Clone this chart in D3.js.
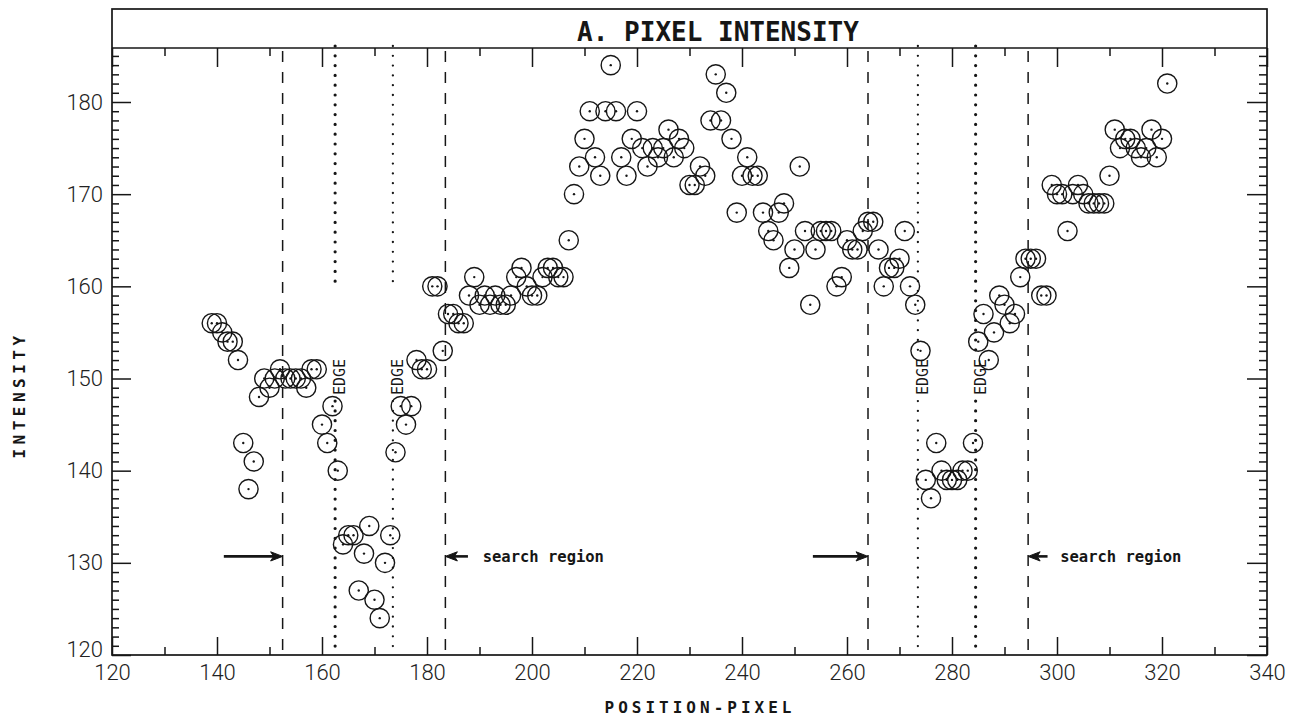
<!DOCTYPE html>
<html>
<head>
<meta charset="utf-8">
<script src="https://cdn.jsdelivr.net/npm/d3@7"></script>
<style>
  html, body { margin: 0; padding: 0; background: #fff; }
  svg { display: block; }
</style>
</head>
<body>
<svg id="chart" width="1302" height="720"></svg>
<script>
// Pixel positions along the scan line and the measured intensity at each one
const pixelPositions = [
  139,140,141,142,143,144,145,146,147,148,
  149,150,151,152,153,154,155,156,157,158,
  159,160,161,162,163,164,165,166,167,168,
  169,170,171,172,173,174,175,176,177,178,
  179,180,181,182,183,184,185,186,187,188,
  189,190,191,192,193,194,195,196,197,198,
  199,200,201,202,203,204,205,206,207,208,
  209,210,211,212,213,214,215,216,217,218,
  219,220,221,222,223,224,225,226,227,228,
  229,230,231,232,233,234,235,236,237,238,
  239,240,241,242,243,244,245,246,247,248,
  249,250,251,252,253,254,255,256,257,258,
  259,260,261,262,263,264,265,266,267,268,
  269,270,271,272,273,274,275,276,277,278,
  279,280,281,282,283,284,285,286,287,288,
  289,290,291,292,293,294,295,296,297,298,
  299,300,301,302,303,304,305,306,307,308,
  309,310,311,312,313,314,315,316,317,318,
  319,320,321
];
const intensities = [
  156,156,155,154,154,152,143,138,141,148,
  150,149,150,151,150,150,150,150,149,151,
  151,145,143,147,140,132,133,133,127,131,
  134,126,124,130,133,142,147,145,147,152,
  151,151,160,160,153,157,157,156,156,159,
  161,158,159,158,159,158,158,159,161,162,
  160,159,159,161,162,162,161,161,165,170,
  173,176,179,174,172,179,184,179,174,172,
  176,179,175,173,175,174,175,177,174,176,
  175,171,171,173,172,178,183,178,181,176,
  168,172,174,172,172,168,166,165,168,169,
  162,164,173,166,158,164,166,166,166,160,
  161,165,164,164,166,167,167,164,160,162,
  162,163,166,160,158,153,139,137,143,140,
  139,139,139,140,140,143,154,157,152,155,
  159,158,156,157,161,163,163,163,159,159,
  171,170,170,166,170,171,170,169,169,169,
  169,172,177,175,176,176,175,174,175,177,
  174,176,182
];

// Axis ticks
const xMajorTicks = [120,140,160,180,200,220,240,260,280,300,320,340];
const xMinorTicks = [130,150,170,190,210,230,250,270,290,310,330];
const yMajorTicks = [120,130,140,150,160,170,180];
const yMinorTicks = [121,122,123,124,125,126,127,128,129,
                     131,132,133,134,135,136,137,138,139,
                     141,142,143,144,145,146,147,148,149,
                     151,152,153,154,155,156,157,158,159,
                     161,162,163,164,165,166,167,168,169,
                     171,172,173,174,175,176,177,178,179,
                     181,182,183,184,185];

// Search region bounds (dashed) and detected edges (dotted)
const searchBounds = [152.5, 183.5, 264, 294.5];
const edgePositions = [162.5, 173.5, 273.5, 284.5];
const edgeUpperEnd = [159.5, 159.5, 153, 153];   // intensity where the upper dotted run stops
const edgeLabelBase = 148.2;                     // intensity where each EDGE label starts

// Search-region arrows: [tail, head] in pixel position, at one intensity level
const arrowLevel = 130.7;
const arrowsIn = [[141.3, 152.5], [253.5, 264]];
const arrowsOut = [[187.8, 183.5], [298.2, 294.5]];
const searchLabelPos = [190.6, 300.6];

const titleText = "A. PIXEL INTENSITY";
const xTitle = "POSITION-PIXEL";
const yTitle = "INTENSITY";

// ---- layout ----
const frame = { left: 112, right: 1267, top: 48, bottom: 655, titleTop: 9 };
const ink = "#161616";
const monoFont = "'DejaVu Sans Mono', monospace";
const tickFont = "Roboto, 'DejaVu Sans', sans-serif";

const svg = d3.select("#chart");

const x = d3.scaleLinear().domain([120, 340]).range([frame.left, frame.right]);
const y = d3.scaleLinear().domain([120, 180]).range([frame.bottom, 102]);

// Outer frame including the title band
svg.append("rect")
  .attr("x", frame.left).attr("y", frame.titleTop)
  .attr("width", frame.right - frame.left)
  .attr("height", frame.bottom - frame.titleTop)
  .attr("fill", "none").attr("stroke", ink).attr("stroke-width", 1.7);
svg.append("line")
  .attr("x1", frame.left).attr("x2", frame.right)
  .attr("y1", frame.top).attr("y2", frame.top)
  .attr("stroke", ink).attr("stroke-width", 1.7);

svg.append("text")
  .attr("x", 718).attr("y", 41)
  .attr("text-anchor", "middle")
  .attr("font-family", monoFont).attr("font-weight", "bold")
  .attr("font-size", 26).attr("fill", ink)
  .text(titleText);

// ---- axes (ticks point inward on all four sides) ----
function styleAxis(g) {
  g.select(".domain").remove();
  g.selectAll(".tick line").attr("stroke", ink).attr("stroke-width", 1.5);
  g.selectAll(".tick text")
    .attr("font-family", tickFont).attr("font-weight", 300)
    .attr("font-size", 22).attr("fill", "#222");
}

svg.append("g").attr("transform", `translate(0,${frame.bottom})`)
  .call(d3.axisBottom(x).tickValues(xMajorTicks).tickSize(-18).tickPadding(9)
        .tickFormat(d3.format("d")))
  .call(styleAxis);
svg.append("g").attr("transform", `translate(0,${frame.bottom})`)
  .call(d3.axisBottom(x).tickValues(xMinorTicks).tickSize(-8).tickFormat(""))
  .call(styleAxis);
svg.append("g").attr("transform", `translate(0,${frame.top})`)
  .call(d3.axisTop(x).tickValues(xMajorTicks).tickSize(-19).tickFormat(""))
  .call(styleAxis);
svg.append("g").attr("transform", `translate(0,${frame.top})`)
  .call(d3.axisTop(x).tickValues(xMinorTicks).tickSize(-8).tickFormat(""))
  .call(styleAxis);

const yLeft = svg.append("g").attr("transform", `translate(${frame.left},0)`)
  .call(d3.axisLeft(y).tickValues(yMajorTicks).tickSize(-19).tickPadding(9)
        .tickFormat(d3.format("d")))
  .call(styleAxis);
// lift the lowest label so it clears the x-axis numbers
yLeft.selectAll(".tick text").filter(d => d === 120).attr("dy", "0.05em");
svg.append("g").attr("transform", `translate(${frame.left},0)`)
  .call(d3.axisLeft(y).tickValues(yMinorTicks).tickSize(-7).tickFormat(""))
  .call(styleAxis);
svg.append("g").attr("transform", `translate(${frame.right},0)`)
  .call(d3.axisRight(y).tickValues(yMajorTicks).tickSize(-20).tickFormat(""))
  .call(styleAxis);
svg.append("g").attr("transform", `translate(${frame.right},0)`)
  .call(d3.axisRight(y).tickValues(yMinorTicks).tickSize(-8).tickFormat(""))
  .call(styleAxis);

// Axis titles
svg.append("text")
  .attr("x", 700).attr("y", 713)
  .attr("text-anchor", "middle")
  .attr("font-family", monoFont).attr("font-weight", "bold")
  .attr("font-size", 16).attr("letter-spacing", 4).attr("fill", ink)
  .text(xTitle);
svg.append("text")
  .attr("transform", "translate(25,395) rotate(-90)")
  .attr("text-anchor", "middle")
  .attr("font-family", monoFont).attr("font-weight", "bold")
  .attr("font-size", 16).attr("letter-spacing", 4.5).attr("fill", ink)
  .text(yTitle);

// ---- search region bounds ----
const guides = svg.append("g");
guides.selectAll("line.bound").data(searchBounds).join("line")
  .attr("class", "bound")
  .attr("x1", d => x(d)).attr("x2", d => x(d))
  .attr("y1", frame.top + 3).attr("y2", frame.bottom)
  .attr("stroke", ink).attr("stroke-width", 1.5)
  .attr("stroke-dasharray", "11 10");

// ---- edge markers: dotted runs above and below an EDGE label ----
edgePositions.forEach((p, i) => {
  const heavy = (i === 0 || i === 3);
  const dotStyle = sel => sel
    .attr("stroke", ink)
    .attr("stroke-width", heavy ? 3.2 : 2.3)
    .attr("stroke-linecap", "round")
    .attr("stroke-dasharray", "0 9.8");
  guides.append("line")
    .attr("x1", x(p)).attr("x2", x(p))
    .attr("y1", frame.top - 2).attr("y2", y(edgeUpperEnd[i]))
    .call(dotStyle);
  guides.append("line")
    .attr("x1", x(p)).attr("x2", x(p))
    .attr("y1", y(edgeLabelBase) + 6).attr("y2", frame.bottom)
    .call(dotStyle);
  guides.append("text")
    .attr("transform", `translate(${x(p) + 10},${y(edgeLabelBase)}) rotate(-90)`)
    .attr("font-family", monoFont).attr("font-size", 15)
    .attr("fill", ink)
    .text("EDGE");
});

// ---- search region arrows ----
function arrow(from, to) {
  const x0 = x(from), x1 = x(to), yy = y(arrowLevel);
  const dir = Math.sign(x1 - x0);
  const headLen = 12, halfW = 4.6;
  guides.append("line")
    .attr("x1", x0).attr("x2", x1 - dir * headLen * 0.6)
    .attr("y1", yy).attr("y2", yy)
    .attr("stroke", ink).attr("stroke-width", 2.6);
  guides.append("path")
    .attr("d", `M${x1},${yy} L${x1 - dir * headLen},${yy - halfW} L${x1 - dir * headLen * 0.75},${yy} L${x1 - dir * headLen},${yy + halfW} Z`)
    .attr("fill", ink).attr("stroke", ink).attr("stroke-width", 1);
}
arrowsIn.forEach(a => arrow(a[0], a[1]));
arrowsOut.forEach(a => arrow(a[0], a[1]));

guides.selectAll("text.search").data(searchLabelPos).join("text")
  .attr("class", "search")
  .attr("x", d => x(d)).attr("y", y(arrowLevel))
  .attr("dy", "0.35em")
  .attr("font-family", monoFont).attr("font-weight", "bold")
  .attr("font-size", 15.5).attr("fill", ink)
  .text("search region");

// ---- data points: open circle with a centre dot ----
const points = pixelPositions.map((p, i) => ({ p, v: intensities[i] }));
const pts = svg.append("g");
pts.selectAll("circle.ring").data(points).join("circle")
  .attr("class", "ring")
  .attr("cx", d => x(d.p)).attr("cy", d => y(d.v))
  .attr("r", 9.6)
  .attr("fill", "none").attr("stroke", ink).attr("stroke-width", 1.4);
pts.selectAll("circle.dot").data(points).join("circle")
  .attr("class", "dot")
  .attr("cx", d => x(d.p)).attr("cy", d => y(d.v))
  .attr("r", 1.2)
  .attr("fill", ink);
</script>
</body>
</html>
